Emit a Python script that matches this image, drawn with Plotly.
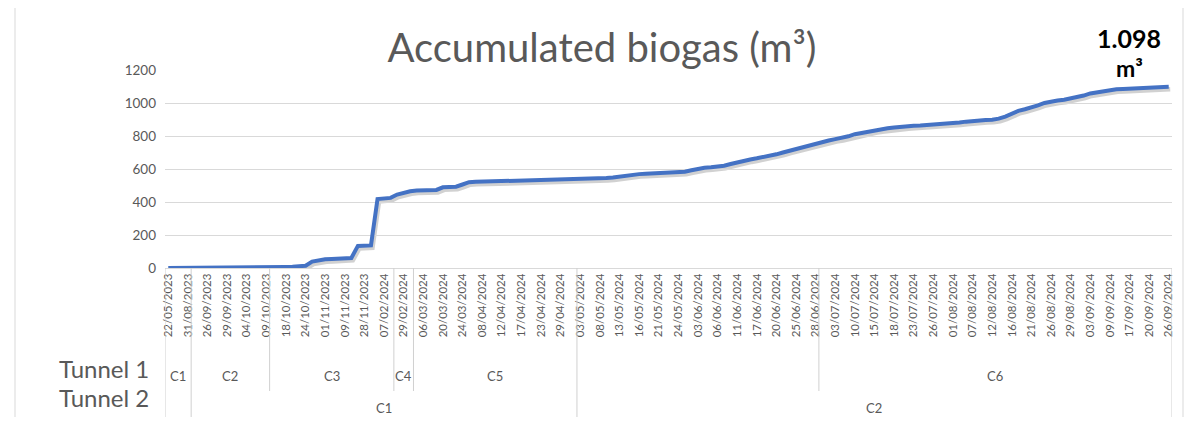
import plotly.graph_objects as go

# ---------------- data ----------------
tick_dates = [
    "22/05/2023", "31/08/2023", "26/09/2023", "29/09/2023", "04/10/2023", "09/10/2023",
    "18/10/2023", "24/10/2023", "01/11/2023", "09/11/2023", "28/11/2023", "07/02/2024",
    "29/02/2024", "06/03/2024", "20/03/2024", "24/03/2024", "08/04/2024", "12/04/2024",
    "17/04/2024", "23/04/2024", "29/04/2024", "03/05/2024", "08/05/2024", "13/05/2024",
    "16/05/2024", "21/05/2024", "24/05/2024", "03/06/2024", "06/06/2024", "11/06/2024",
    "17/06/2024", "20/06/2024", "25/06/2024", "28/06/2024", "03/07/2024", "10/07/2024",
    "15/07/2024", "18/07/2024", "23/07/2024", "26/07/2024", "01/08/2024", "07/08/2024",
    "12/08/2024", "16/08/2024", "21/08/2024", "26/08/2024", "29/08/2024", "03/09/2024",
    "09/09/2024", "17/09/2024", "20/09/2024", "26/09/2024",
]
label_every = 3  # one date label every 3 categories

biogas = [
    0, 0, 0, 0, 2, 4, 5, 5, 5, 5,
    5, 5, 5, 5, 5, 5, 5, 6, 6, 7,
    10, 14, 39, 49, 53, 55, 57, 60, 61, 134,
    136, 137, 418, 421, 425, 445, 456, 465, 469, 470,
    471, 473, 489, 490, 493, 506, 520, 522, 523, 525,
    526, 526, 527, 527, 528, 528, 529, 530, 532, 534,
    536, 537, 538, 539, 540, 541, 543, 545, 549, 555,
    558, 564, 569, 571, 573, 575, 577, 579, 581, 584,
    592, 602, 607, 610, 614, 620, 630, 641, 651, 658,
    665, 672, 680, 689, 700, 711, 721, 732, 743, 755,
    766, 773, 781, 788, 798, 811, 819, 827, 835, 841,
    847, 851, 856, 859, 862, 864, 866, 868, 870, 873,
    878, 882, 887, 892, 895, 897, 899, 905, 918, 938,
    952, 962, 972, 985, 1000, 1010, 1015, 1020, 1028, 1035,
    1045, 1058, 1065, 1072, 1080, 1083, 1085, 1087, 1089, 1091,
    1093, 1095, 1096, 1098,
]

tunnel1_groups = ["C1", "C2", "C3", "C4", "C5", "", "C6"]
tunnel1_spans = [4, 12, 19, 3, 25, 37, 54]
tunnel2_groups = ["", "C1", "C2"]
tunnel2_spans = [4, 59, 91]

final_value_text = "1.098"
final_unit_text = "m³"
title_text = "Accumulated biogas (m³)"
y_ticks = [0, 200, 400, 600, 800, 1000, 1200]

# ---------------- layout constants (screen px) ----------------
OFF = 8                     # page body margin
W, H = 1180, 409            # figure size
L, R, T, B = 165, 1172, 70, 268   # plot box in screen coordinates
ML, MT = L - OFF, T - OFF
MR, MB = W - (R - OFF), H - (B - OFF)
PW, PH = R - L, B - T
GREY = "#595959"
FONT = "Lato"

N = len(biogas)
idx = list(range(N))
XR = [-0.5, N - 0.5]
YR = [0, 1200]
# shadow offset (px -> data units)
sdx = 1.5 * (XR[1] - XR[0]) / PW
sdy = 2.5 * (YR[1] - YR[0]) / PH


def px(sx):
    return (sx - L) / PW


def py(sy):
    return (B - sy) / PH


fig = go.Figure()
# shadow line (hidden axes, shifted ranges)
fig.add_trace(go.Scatter(
    x=idx, y=biogas, xaxis="x", yaxis="y", mode="lines",
    line=dict(color="rgba(0,0,0,0.18)", width=4.5),
    hoverinfo="skip", showlegend=False))
# main line
fig.add_trace(go.Scatter(
    x=idx, y=biogas, xaxis="x2", yaxis="y2", mode="lines",
    line=dict(color="#4472C4", width=4),
    showlegend=False))

shapes = []
annotations = []


def bounds(spans):
    b = [XR[0]]
    for s in spans:
        b.append(b[-1] + s)
    return b


b1 = bounds(tunnel1_spans)
b2 = bounds(tunnel2_spans)
full_end = py(418)
t1_end = py(391)
for b in b2:
    shapes.append(dict(type="line", xref="x2", yref="paper", x0=b, x1=b, y0=0, y1=full_end,
                       line=dict(color="#d0d0d0", width=1)))
for b in b1:
    if b not in b2:
        shapes.append(dict(type="line", xref="x2", yref="paper", x0=b, x1=b, y0=0, y1=t1_end,
                           line=dict(color="#d0d0d0", width=1)))

for name, a, c in zip(tunnel1_groups, b1[:-1], b1[1:]):
    if name:
        annotations.append(dict(text=name, xref="x2", yref="paper", x=(a + c) / 2, y=py(376),
                                showarrow=False, xanchor="center", yanchor="middle",
                                font=dict(family=FONT, size=13, color=GREY)))
for name, a, c in zip(tunnel2_groups, b2[:-1], b2[1:]):
    if name:
        annotations.append(dict(text=name, xref="x2", yref="paper", x=(a + c) / 2, y=py(408),
                                showarrow=False, xanchor="center", yanchor="middle",
                                font=dict(family=FONT, size=13, color=GREY)))

annotations.append(dict(text="Tunnel 1", xref="paper", yref="paper", x=px(151), y=py(368),
                        showarrow=False, xanchor="right", yanchor="middle",
                        font=dict(family=FONT, size=24, color=GREY)))
annotations.append(dict(text="Tunnel 2", xref="paper", yref="paper", x=px(151), y=py(397),
                        showarrow=False, xanchor="right", yanchor="middle",
                        font=dict(family=FONT, size=24, color=GREY)))

# final value label (two lines)
annotations.append(dict(text="<b>" + final_value_text + "</b>", xref="x2", yref="y2",
                        x=idx[-1], y=biogas[-1], showarrow=False,
                        xanchor="center", yanchor="middle", xshift=-40, yshift=49,
                        font=dict(family=FONT, size=25, color="#000000")))
annotations.append(dict(text="<b>" + final_unit_text + "</b>", xref="x2", yref="y2",
                        x=idx[-1], y=biogas[-1], showarrow=False,
                        xanchor="center", yanchor="middle", xshift=-39, yshift=19,
                        font=dict(family=FONT, size=23, color="#000000")))

# outer chart border
shapes.append(dict(type="rect", xref="paper", yref="paper",
                   x0=px(15), x1=px(1183), y0=py(421), y1=py(-5),
                   line=dict(color="#d9d9d9", width=1), layer="below"))

fig.update_layout(
    width=W, height=H, template="none",
    margin=dict(l=ML, r=MR, t=MT, b=MB, autoexpand=False),
    paper_bgcolor="white", plot_bgcolor="rgba(0,0,0,0)",
    showlegend=False,
    title=dict(text=title_text, x=(602 - OFF) / W, xanchor="center",
               y=1 - (48 - OFF) / H, yanchor="middle",
               font=dict(family=FONT, size=40, color=GREY)),
    xaxis=dict(range=[XR[0] - sdx, XR[1] - sdx], visible=False, anchor="y", fixedrange=True),
    yaxis=dict(range=[YR[0] + sdy, YR[1] + sdy], visible=False, anchor="x", fixedrange=True),
    xaxis2=dict(range=XR, anchor="y2", showgrid=False, zeroline=False, showline=True,
                linecolor="#d9d9d9", linewidth=1, ticks="",
                tickmode="array", tickvals=idx[::label_every], ticktext=tick_dates,
                tickangle=-90, automargin=False, ticklabelstandoff=0,
                tickfont=dict(family=FONT, size=11.5, color=GREY)),
    yaxis2=dict(range=YR, anchor="x2", tickmode="array", tickvals=y_ticks,
                showgrid=True, gridcolor="#d9d9d9", gridwidth=1, zeroline=False,
                showline=False, ticks="", automargin=False, ticklabelstandoff=8,
                tickfont=dict(family=FONT, size=13.5, color=GREY)),
    shapes=shapes,
    annotations=annotations,
)

fig.write_html("out.html")
